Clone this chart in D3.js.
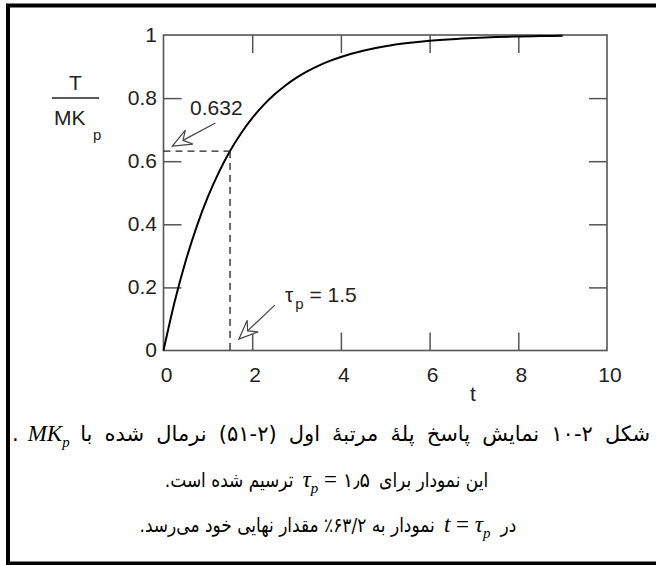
<!DOCTYPE html>
<html>
<head>
<meta charset="utf-8">
<script src="https://cdn.jsdelivr.net/npm/d3@7"></script>
<style>
  body { margin: 0; background: #fff; }
  svg { display: block; }
</style>
</head>
<body>
<svg id="chart" width="656" height="565"></svg>
<script>
// Normalised first-order step response, tau_p = 1.5
const timeValues = [0, 0.25, 0.5, 0.75, 1, 1.25, 1.5, 1.75, 2, 2.25, 2.5, 2.75, 3, 3.25, 3.5, 3.75,
                    4, 4.5, 5, 5.5, 6, 6.5, 7, 7.5, 8, 8.5, 9];
const responseValues = [0, 0.1535, 0.2835, 0.3935, 0.4866, 0.5654, 0.6321, 0.6886, 0.7364, 0.7769,
                        0.8111, 0.8401, 0.8647, 0.8854, 0.9030, 0.9179, 0.9305, 0.9502, 0.9643,
                        0.9744, 0.9817, 0.9869, 0.9906, 0.9933, 0.9952, 0.9965, 0.9975];
const xTicks = [0, 2, 4, 6, 8, 10];
const yTicks = [0, 0.2, 0.4, 0.6, 0.8, 1];
const xTickLabels = ["0", "2", "4", "6", "8", "10"];
const yTickLabels = ["0", "0.2", "0.4", "0.6", "0.8", "1"];
const tauP = 1.5;
const markLevel = 0.632;
const markLabel = "0.632";
const tauLabel = ["τ", "p", " = 1.5"];

// Caption lines, laid out right to left
const captionLine1 = ["شکل ۲-۱۰ نمایش پاسخ پلهٔ مرتبهٔ اول (۲-۵۱) نرمال شده با", "MK|p", "."];
const captionLine2 = ["این نمودار برای", "τ|p| = ۱٫۵", "ترسیم شده است."];
const captionLine3 = ["در", "t = τ|p", "نمودار به ۶۳/۲٪ مقدار نهایی خود می‌رسد."];

(function () {
const svg = d3.select("#chart");
const sans = "'Liberation Sans', Arial, sans-serif";
const serif = "'Liberation Serif', 'Times New Roman', serif";
const faFont = "'DejaVu Sans', sans-serif";
const frameColor = "#555";

// Outer box
svg.append("rect")
  .attr("x", 8).attr("y", 5.5)
  .attr("width", 660).attr("height", 558)
  .attr("fill", "none").attr("stroke", "#000").attr("stroke-width", 4);

const x = d3.scaleLinear().domain([0, 10]).range([163.5, 607]);
const y = d3.scaleLinear().domain([0, 1]).range([350.5, 35]);

const tick = 18;
const g = svg.append("g");

function styleAxis(sel) {
  sel.select(".domain").remove();
  sel.selectAll(".tick line").attr("stroke", frameColor).attr("stroke-width", 1.5);
}

// Inward ticks on all four sides
const axisB = g.append("g").attr("transform", `translate(0,${y(0)})`)
  .call(d3.axisBottom(x).tickValues(xTicks.slice(1, -1)).tickSizeInner(-tick).tickSizeOuter(0).tickFormat(""));
styleAxis(axisB);
const axisT = g.append("g").attr("transform", `translate(0,${y(1)})`)
  .call(d3.axisTop(x).tickValues(xTicks.slice(1, -1)).tickSizeInner(-tick).tickSizeOuter(0).tickFormat(""));
styleAxis(axisT);
const axisL = g.append("g").attr("transform", `translate(${x(0)},0)`)
  .call(d3.axisLeft(y).tickValues(yTicks.slice(1, -1)).tickSizeInner(-tick).tickSizeOuter(0).tickFormat(""));
styleAxis(axisL);
const axisR = g.append("g").attr("transform", `translate(${x(10)},0)`)
  .call(d3.axisRight(y).tickValues(yTicks.slice(1, -1)).tickSizeInner(-tick).tickSizeOuter(0).tickFormat(""));
styleAxis(axisR);

// Frame
g.append("rect")
  .attr("x", x(0)).attr("y", y(1))
  .attr("width", x(10) - x(0)).attr("height", y(0) - y(1))
  .attr("fill", "none").attr("stroke", frameColor).attr("stroke-width", 1.6);

// Tick labels
g.selectAll("text.xl").data(xTicks).join("text")
  .attr("class", "xl")
  .attr("x", d => x(d) + 3).attr("y", 382)
  .attr("text-anchor", "middle")
  .attr("font-family", sans).attr("font-size", 21).attr("fill", "#222")
  .text((d, i) => xTickLabels[i]);
g.selectAll("text.yl").data(yTicks).join("text")
  .attr("class", "yl")
  .attr("x", 157).attr("y", d => y(d) + 6.5)
  .attr("text-anchor", "end")
  .attr("font-family", sans).attr("font-size", 21).attr("fill", "#222")
  .text((d, i) => yTickLabels[i]);

// Axis titles
g.append("text").attr("x", 473).attr("y", 401).attr("text-anchor", "middle")
  .attr("font-family", sans).attr("font-size", 21).attr("fill", "#222").text("t");
g.append("text").attr("x", 75.5).attr("y", 90).attr("text-anchor", "middle")
  .attr("font-family", sans).attr("font-size", 21).attr("fill", "#222").text("T");
g.append("line").attr("x1", 52).attr("x2", 99).attr("y1", 98).attr("y2", 98)
  .attr("stroke", "#222").attr("stroke-width", 1.4);
const mk = g.append("text").attr("x", 54).attr("y", 125)
  .attr("font-family", sans).attr("font-size", 21).attr("fill", "#222");
mk.append("tspan").text("MK");
mk.append("tspan").attr("x", 93).attr("y", 140).attr("font-size", 15).text("p");

// Response curve
const line = d3.line().x((d, i) => x(timeValues[i])).y(d => y(d)).curve(d3.curveMonotoneX);
g.append("path").datum(responseValues)
  .attr("d", line).attr("fill", "none").attr("stroke", "#000").attr("stroke-width", 2);

// Dashed guides at t = tau_p
g.append("line").attr("x1", x(0)).attr("x2", x(tauP)).attr("y1", y(markLevel)).attr("y2", y(markLevel))
  .attr("stroke", "#222").attr("stroke-width", 1.3).attr("stroke-dasharray", "7,5");
g.append("line").attr("x1", x(tauP)).attr("x2", x(tauP)).attr("y1", y(markLevel)).attr("y2", y(0))
  .attr("stroke", "#222").attr("stroke-width", 1.3).attr("stroke-dasharray", "7,5");

// Hollow arrow from a label to a point
function arrow(tail, tip) {
  const dx = tail[0] - tip[0], dy = tail[1] - tip[1];
  const len = Math.hypot(dx, dy), ux = dx / len, uy = dy / len;
  const px = -uy, py = ux;
  const hl = 19, hw = 8, notch = 12;
  const w1 = [tip[0] + ux * hl + px * hw, tip[1] + uy * hl + py * hw];
  const w2 = [tip[0] + ux * hl - px * hw, tip[1] + uy * hl - py * hw];
  const n = [tip[0] + ux * notch, tip[1] + uy * notch];
  g.append("line").attr("x1", tail[0]).attr("y1", tail[1]).attr("x2", n[0]).attr("y2", n[1])
    .attr("stroke", "#444").attr("stroke-width", 1.2);
  g.append("path").attr("d", `M${tip}L${w1}L${n}L${w2}Z`)
    .attr("fill", "#fff").attr("stroke", "#444").attr("stroke-width", 1.2).attr("stroke-linejoin", "miter");
}
arrow([x(1.17), y(0.721)], [x(0.2), y(0.648)]);
arrow([x(2.51), y(0.144)], [x(1.7), y(0.036)]);

g.append("text").attr("x", x(0.6)).attr("y", y(0.746))
  .attr("font-family", sans).attr("font-size", 21).attr("fill", "#222").text(markLabel);
const tl = g.append("text").attr("x", x(2.74)).attr("y", y(0.154))
  .attr("font-family", sans).attr("font-size", 21).attr("fill", "#222");
tl.append("tspan").text(tauLabel[0]);
tl.append("tspan").attr("dx", 2).attr("dy", 7).attr("font-size", 15).text(tauLabel[1]);
tl.append("tspan").attr("dy", -7).text(tauLabel[2]);

// Caption
function mathText(sel, spec, size) {
  const parts = spec.split("|");
  sel.attr("font-family", serif).attr("font-size", size).attr("fill", "#000");
  parts.forEach((p, i) => {
    const t = sel.append("tspan");
    if (i % 2 === 1) {
      t.attr("font-size", size * 0.65).attr("font-style", "italic").attr("dy", size * 0.28).text(p);
    } else {
      if (i > 0) t.attr("dy", -size * 0.28);
      const m = p.match(/^(\s*=\s*)(.*)$/);
      if (m) {
        t.text(m[1]);
        const rest = m[2];
        if (rest) {
          const r = sel.append("tspan").text(rest);
          if (/[۰-۹]/.test(rest)) r.attr("font-family", faFont).attr("font-size", size * 0.85);
          else r.attr("font-style", "italic");
        }
      } else {
        const mm = p.match(/^(\S+)(\s*=\s*)?(.*)$/);
        t.attr("font-style", "italic").text(mm ? mm[1] : p);
        if (mm && mm[2]) sel.append("tspan").text(mm[2]);
        if (mm && mm[3]) sel.append("tspan").attr("font-style", "italic").text(mm[3]);
      }
    }
  });
}

function captionLine(parts, baseline, leftEdge, rightEdge, justify, faSize) {
  const gap = 9;
  const mathSize = 23;
  const items = parts.map((p, i) => {
    const t = svg.append("text");
    if (i === 1) { mathText(t, p, mathSize); t.attr("direction", "ltr").attr("text-anchor", "start"); }
    else t.attr("font-family", faFont).attr("font-size", faSize).attr("direction", "rtl")
           .attr("text-anchor", "middle").attr("fill", "#000").text(p);
    return { t, math: i === 1 };
  });
  let w = items.map(d => d.t.node().getBBox().width);
  const faW = w.filter((_, i) => !items[i].math).reduce((a, b) => a + b, 0);
  const mW = w.filter((_, i) => items[i].math).reduce((a, b) => a + b, 0);
  const avail = rightEdge - leftEdge - mW - gap * (items.length - 1);
  let sx = avail / faW;
  if (sx > 1) {
    if (justify) {
      const spaces = (parts[0].match(/ /g) || []).length;
      items[0].t.attr("word-spacing", (avail - faW) / spaces);
      w = items.map(d => d.t.node().getBBox().width);
    }
    sx = 1;
  }
  if (!justify) sx = Math.max(sx, 0.85);
  const sw = w.map((v, i) => items[i].math ? v : v * sx);
  const total = sw.reduce((a, b) => a + b, 0) + gap * (items.length - 1);
  let cursor = justify ? rightEdge : (leftEdge + rightEdge) / 2 + total / 2;
  items.forEach((d, i) => {
    const left = cursor - sw[i];
    if (d.math) d.t.attr("transform", `translate(${left},${baseline})`);
    else d.t.attr("transform", `translate(${left + sw[i] / 2},${baseline}) scale(${sx},1)`);
    cursor = left - gap;
  });
}

captionLine(captionLine1, 441, 12, 650, true, 21);
captionLine(captionLine2, 487, 180, 473, false, 20);
captionLine(captionLine3, 532, 173, 483, false, 20);
})();
</script>
</body>
</html>
